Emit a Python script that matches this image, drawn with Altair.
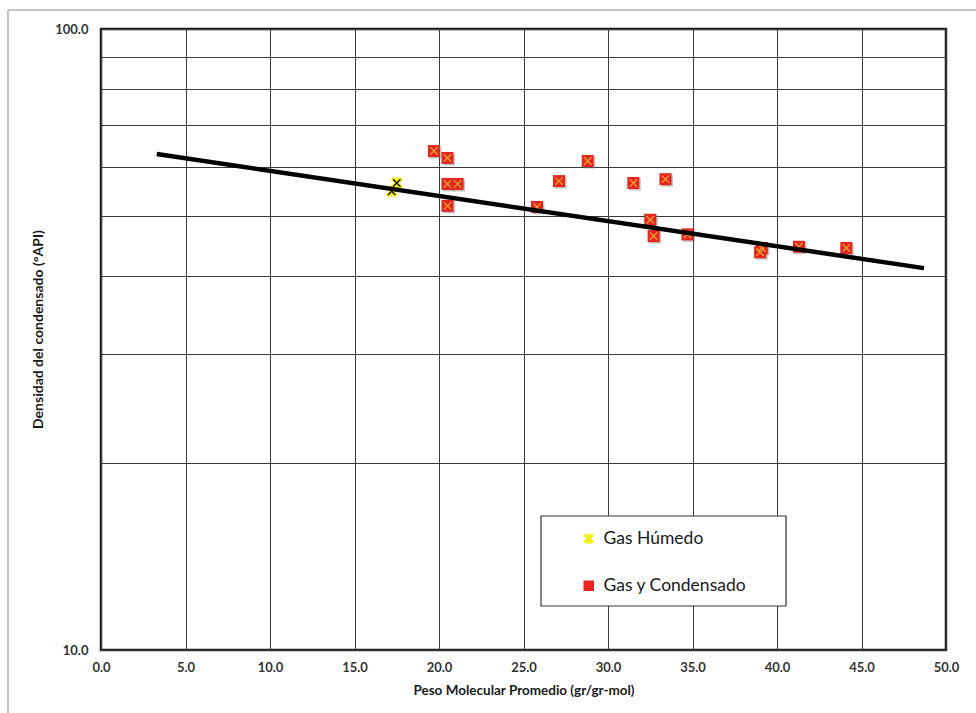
import altair as alt
import pandas as pd

# ---- data ----
series_names = ["Gas Húmedo", "Gas y Condensado"]

humedo_x = [17.2, 17.5]
humedo_y = [54.8, 56.5]

cond_x = [19.7, 20.5, 20.5, 21.1, 20.5, 25.8, 27.1, 28.8, 31.5, 33.4,
          32.5, 32.7, 34.7, 39.0, 39.1, 41.3, 44.1]
cond_y = [63.6, 62.0, 56.3, 56.3, 51.9, 51.7, 56.9, 61.3, 56.5, 57.3,
          49.3, 46.4, 46.7, 43.7, 44.4, 44.6, 44.4]

trend_x = [3.3, 48.7]
trend_y = [62.9, 41.2]

x_ticks = [0, 5, 10, 15, 20, 25, 30, 35, 40, 45, 50]
y_ticks = [10, 20, 30, 40, 50, 60, 70, 80, 90, 100]

x_title = "Peso Molecular Promedio (gr/gr-mol)"
y_title = "Densidad del condensado (°API)"

# ---- tables ----
pts = pd.DataFrame({
    "x": humedo_x + cond_x,
    "y": humedo_y + cond_y,
    "serie": [series_names[0]] * len(humedo_x) + [series_names[1]] * len(cond_x),
})
trend = pd.DataFrame({"x": trend_x, "y": trend_y})

W, H = 845, 621
FONT = "Lato"

SQUARE = "M-1,-1L1,-1L1,1L-1,1Z"
XBLOB = ("M-1,-0.55L-0.55,-1L0,-0.45L0.55,-1L1,-0.55L0.45,0L1,0.55L0.55,1"
         "L0,0.45L-0.55,1L-1,0.55L-0.45,0Z M-0.18,-1L0.18,-1L0.18,1L-0.18,1Z")
THINX = "M-0.62,-0.62L0.62,0.62M0.62,-0.62L-0.62,0.62"

xscale = alt.Scale(domain=[0, 50], nice=False, zero=False)
yscale = alt.Scale(type="log", domain=[10, 100], nice=False)

xaxis = alt.Axis(
    values=x_ticks, format=".1f", ticks=False, domain=False,
    grid=True, gridColor="#3a3a3a", gridWidth=1, gridOpacity=1,
    labelFont=FONT, labelFontSize=13, labelFontWeight="bold", labelColor="#333333",
    labelPadding=11, labelFlush=False,
    title=x_title, titleFont=FONT, titleFontSize=13.5, titleFontWeight="bold",
    titleColor="#1a1a1a", titleX=W / 2, titleY=40, titleBaseline="middle",
    titleAlign="center",
)
yaxis = alt.Axis(
    values=y_ticks,
    labelExpr="datum.value == 10 || datum.value == 100 ? format(datum.value, '.1f') : ''",
    ticks=False, domain=False,
    grid=True, gridColor="#3a3a3a", gridWidth=1, gridOpacity=1,
    labelFont=FONT, labelFontSize=13, labelFontWeight="bold", labelColor="#333333",
    labelPadding=13, labelFlush=False,
    title=y_title, titleFont=FONT, titleFontSize=14, titleFontWeight="bold",
    titleColor="#1a1a1a", titleX=-63, titleY=300, titleAngle=-90,
    titleBaseline="middle", titleAlign="center",
)

legend_opts = dict(
    title=None, orient="none", legendX=479, legendY=501,
    labelFont=FONT, labelFontSize=17.5, labelColor="#1a1a1a",
    labelOffset=6, symbolSize=110, rowPadding=28, padding=0,
    symbolStrokeWidth=0, labelLimit=300,
)

base = alt.Chart(pts)

# decorative outer frame (top and left edges visible in the reference)
frame_left = alt.Chart(alt.Data(values=[{}])).mark_rule(
    color="#c4c4c4", strokeWidth=2
).encode(x=alt.value(-93), y=alt.value(-19), y2=alt.value(H + 63))
frame_top = alt.Chart(alt.Data(values=[{}])).mark_rule(
    color="#c4c4c4", strokeWidth=2
).encode(x=alt.value(-93), x2=alt.value(W + 30), y=alt.value(-19))

# legend frame
legend_box = alt.Chart(alt.Data(values=[{}])).mark_rect(
    fill="white", stroke="#333333", strokeWidth=1.2
).encode(x=alt.value(440), x2=alt.value(685), y=alt.value(487), y2=alt.value(577))

shadow = base.transform_filter(
    alt.datum.serie == series_names[1]
).mark_point(filled=True, shape=SQUARE, size=144, color="#7a7a7a", opacity=0.45).encode(
    x=alt.X("x:Q", scale=xscale, axis=xaxis),
    y=alt.Y("y:Q", scale=yscale, axis=yaxis),
    xOffset=alt.value(1.5),
    yOffset=alt.value(1.5),
)

markers = base.mark_point(filled=True, opacity=1, strokeWidth=0).encode(
    x=alt.X("x:Q", scale=xscale, axis=xaxis),
    y=alt.Y("y:Q", scale=yscale, axis=yaxis),
    fill=alt.Fill("serie:N", scale=alt.Scale(domain=series_names, range=["#f2ee12", "#e5261f"]),
                  legend=alt.Legend(**legend_opts)),
    shape=alt.Shape("serie:N", scale=alt.Scale(domain=series_names, range=[XBLOB, SQUARE]),
                    legend=alt.Legend(**legend_opts)),
    size=alt.value(144),
)

crosses = base.mark_point(filled=False, shape=THINX, opacity=1, strokeWidth=1.3).encode(
    x=alt.X("x:Q", scale=xscale, axis=xaxis),
    y=alt.Y("y:Q", scale=yscale, axis=yaxis),
    stroke=alt.Stroke("serie:N", scale=alt.Scale(domain=series_names, range=["#111111", "#f3a22a"]),
                      legend=None),
    size=alt.value(144),
)

line = alt.Chart(trend).mark_line(color="black", strokeWidth=4.5, strokeCap="butt").encode(
    x=alt.X("x:Q", scale=xscale, axis=xaxis),
    y=alt.Y("y:Q", scale=yscale, axis=yaxis),
)

chart = alt.layer(
    frame_left, frame_top, legend_box, shadow, markers, crosses, line
).resolve_scale(stroke="independent").properties(
    width=W, height=H,
    autosize=alt.AutoSizeParams(type="none"),
    padding={"left": 101, "top": 29, "right": 30, "bottom": 63},
    background="white",
).configure_view(
    stroke="#1f1f1f", strokeWidth=2.5, fill="white"
)

chart.save("out.html", embed_options={"renderer": "svg", "actions": False})
